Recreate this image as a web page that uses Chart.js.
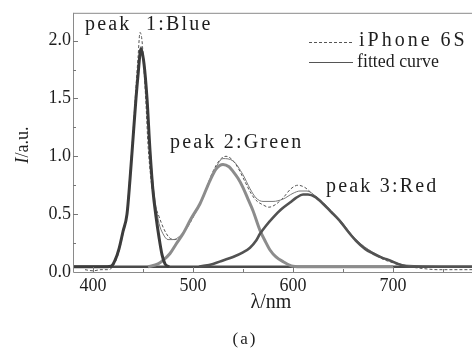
<!DOCTYPE html>
<html>
<head>
<meta charset="utf-8">
<script src="https://cdn.jsdelivr.net/npm/chart.js@4.4.1/dist/chart.umd.min.js"></script>
<style>
  html, body { margin: 0; padding: 0; background: #fff; overflow: hidden; }
  #wrap { width: 480px; height: 349px; }
</style>
</head>
<body>
<div id="wrap"><canvas id="spectrum" width="480" height="349"></canvas></div>
<script>
// values (wavelength in nm, intensity in a.u.)
const baseNm = [380, 780];
const baseI  = [0.045, 0.045];

const blueNm = [380, 410, 418, 422, 426, 430, 434, 437, 440, 443, 445, 448, 451, 454, 457, 460, 463, 466, 469, 472, 476];
const blueI  = [0.045, 0.045, 0.05, 0.1, 0.2, 0.35, 0.5, 0.8, 1.15, 1.5, 1.7, 1.93, 1.8, 1.5, 1.05, 0.7, 0.48, 0.3, 0.15, 0.07, 0.045];

const greenNm = [455, 465, 470, 477, 483, 490, 498, 507, 517, 523, 530, 536, 540, 545, 550, 555, 560, 567, 572, 577, 583, 590, 600, 610, 700];
const greenI  = [0.045, 0.07, 0.1, 0.16, 0.24, 0.33, 0.46, 0.59, 0.79, 0.89, 0.93, 0.91, 0.87, 0.81, 0.73, 0.63, 0.53, 0.36, 0.27, 0.19, 0.13, 0.09, 0.05, 0.045, 0.045];

const redNm = [506, 520, 530, 540, 550, 557, 563, 567, 573, 580, 588, 597, 603, 610, 615, 622, 630, 638, 647, 655, 663, 672, 680, 690, 697, 705, 713, 720, 780];
const redI  = [0.045, 0.07, 0.1, 0.13, 0.17, 0.21, 0.27, 0.33, 0.4, 0.47, 0.54, 0.6, 0.64, 0.67, 0.67, 0.65, 0.59, 0.52, 0.44, 0.35, 0.27, 0.2, 0.16, 0.12, 0.1, 0.07, 0.05, 0.045, 0.045];

const fitNm = [380, 418, 422, 426, 430, 434, 437, 440, 443, 445, 448, 451, 454, 457, 460, 463, 466, 470, 475, 480, 490, 500, 510, 520, 530, 540, 550, 557, 563, 570, 580, 590, 600, 607, 614, 622, 630, 647, 663, 680, 697, 713, 780];
const fitI  = [0.045, 0.05, 0.1, 0.2, 0.35, 0.5, 0.8, 1.15, 1.5, 1.72, 1.95, 1.82, 1.52, 1.08, 0.76, 0.56, 0.42, 0.33, 0.28, 0.28, 0.34, 0.48, 0.65, 0.85, 0.98, 0.96, 0.84, 0.72, 0.64, 0.61, 0.61, 0.63, 0.68, 0.7, 0.7, 0.66, 0.6, 0.45, 0.28, 0.17, 0.1, 0.06, 0.045];

const measNm = [392, 400, 408, 415, 420, 425, 430, 434, 437, 440, 443, 445, 447, 449, 451, 453, 455, 458, 461, 466, 471, 476, 482, 490, 500, 510, 520, 527, 533, 538, 545, 552, 558, 563, 570, 576, 582, 590, 598, 605, 612, 620, 630, 640, 650, 660, 670, 680, 690, 700, 710, 720, 730, 745, 760, 780];
const measI  = [0.02, 0.01, 0.02, 0.02, 0.05, 0.15, 0.33, 0.52, 0.85, 1.2, 1.6, 1.85, 2.07, 2.0, 1.75, 1.45, 1.1, 0.8, 0.62, 0.48, 0.37, 0.3, 0.28, 0.33, 0.47, 0.65, 0.87, 0.97, 1.0, 0.98, 0.9, 0.78, 0.68, 0.62, 0.58, 0.56, 0.58, 0.64, 0.72, 0.75, 0.73, 0.67, 0.6, 0.5, 0.4, 0.3, 0.22, 0.16, 0.11, 0.08, 0.05, 0.04, 0.03, 0.02, 0.02, 0.02];

const xMajor = [400, 500, 600, 700];
const yMajor = [0.0, 0.5, 1.0, 1.5, 2.0];

const legendLabels = ['iPhone 6S', 'fitted curve'];
const peakLabels = ['peak  1:Blue', 'peak 2:Green', 'peak 3:Red'];

function pts(xs, ys) {
  return xs.map((x, i) => ({ x: x, y: ys[i] }));
}

const serif = '"Liberation Serif", "DejaVu Serif", serif';

// frame, inward ticks and annotations
const decorations = {
  id: 'decorations',
  afterDraw(chart) {
    const ctx = chart.ctx;
    const a = chart.chartArea;
    const xs = chart.scales.x, ys = chart.scales.y;
    ctx.save();
    ctx.strokeStyle = '#8a8a8a';
    ctx.lineWidth = 1;
    ctx.beginPath();
    ctx.moveTo(a.left + 0.5, a.top + 0.5);
    ctx.lineTo(a.right + 0.5, a.top + 0.5);
    ctx.moveTo(a.left + 0.5, a.top);
    ctx.lineTo(a.left + 0.5, a.bottom + 0.5);
    ctx.lineTo(a.right, a.bottom + 0.5);
    ctx.stroke();

    ctx.strokeStyle = '#777';
    ctx.beginPath();
    for (let v = 400; v < 790; v += 50) {
      const px = Math.round(xs.getPixelForValue(v)) + 0.5;
      const len = v % 100 === 0 ? 5 : 3;
      ctx.moveTo(px, a.bottom);
      ctx.lineTo(px, a.bottom - len);
    }
    for (let k = 1; k <= 8; k++) {
      const v = k * 0.25;
      const py = Math.round(ys.getPixelForValue(v)) + 0.5;
      const len = k % 2 === 0 ? 5 : 3;
      ctx.moveTo(a.left, py);
      ctx.lineTo(a.left + len, py);
    }
    ctx.stroke();

    ctx.fillStyle = '#1e1e1e';
    ctx.textBaseline = 'middle';
    ctx.textAlign = 'left';
    ctx.font = '20px ' + serif;
    ctx.letterSpacing = '2.2px';
    ctx.fillText(peakLabels[0], 85, 25);
    ctx.fillText(peakLabels[1], 170, 143);
    ctx.fillText(peakLabels[2], 326, 187);

    // legend
    ctx.strokeStyle = '#555';
    ctx.lineWidth = 1;
    ctx.setLineDash([3, 2]);
    ctx.beginPath();
    ctx.moveTo(309, 42.5);
    ctx.lineTo(353, 42.5);
    ctx.stroke();
    ctx.setLineDash([]);
    ctx.beginPath();
    ctx.moveTo(309, 62.5);
    ctx.lineTo(353, 62.5);
    ctx.stroke();
    ctx.font = '20px ' + serif;
    ctx.letterSpacing = '3px';
    ctx.fillText(legendLabels[0], 359, 41);
    ctx.save();
    ctx.translate(357, 62);
    ctx.scale(0.94, 1);
    ctx.font = '19px ' + serif;
    ctx.letterSpacing = '0px';
    ctx.fillText(legendLabels[1], 0, 0);
    ctx.restore();

    // axis titles and caption
    ctx.letterSpacing = '0px';
    ctx.textAlign = 'center';
    ctx.font = '20px ' + serif;
    ctx.fillText('λ/nm', 271, 303);
    ctx.font = '17px ' + serif;
    ctx.letterSpacing = '2px';
    ctx.fillText('(a)', 245, 340);
    ctx.letterSpacing = '0px';

    ctx.save();
    ctx.translate(23, 145);
    ctx.rotate(-Math.PI / 2);
    ctx.textAlign = 'left';
    ctx.font = 'italic 18px ' + serif;
    const w1 = ctx.measureText('I').width;
    ctx.font = '18px ' + serif;
    const w2 = ctx.measureText('/a.u.').width;
    const start = -(w1 + w2) / 2;
    ctx.font = 'italic 18px ' + serif;
    ctx.fillText('I', start, 0);
    ctx.font = '18px ' + serif;
    ctx.fillText('/a.u.', start + w1, 0);
    ctx.restore();

    ctx.restore();
  }
};

new Chart(document.getElementById('spectrum'), {
  type: 'line',
  data: {
    datasets: [
      {
        label: 'peak 1',
        data: pts(blueNm, blueI),
        borderColor: '#3c3c3c',
        borderWidth: 3,
        order: 1
      },
      {
        label: 'peak 3',
        data: pts(redNm, redI),
        borderColor: '#525252',
        borderWidth: 2.6,
        order: 2
      },
      {
        label: 'peak 2',
        data: pts(greenNm, greenI),
        borderColor: '#8c8c8c',
        borderWidth: 3,
        order: 3
      },
      {
        label: 'baseline',
        data: pts(baseNm, baseI),
        borderColor: '#4a4a4a',
        borderWidth: 2.6,
        order: 4
      },
      {
        label: 'fitted curve',
        data: pts(fitNm, fitI),
        borderColor: '#777',
        borderWidth: 1,
        order: 5
      },
      {
        label: 'iPhone 6S',
        data: pts(measNm, measI),
        borderColor: '#555',
        borderWidth: 1,
        borderDash: [3, 2],
        order: 6
      }
    ]
  },
  options: {
    responsive: false,
    animation: false,
    devicePixelRatio: 1,
    elements: {
      point: { radius: 0 },
      line: { cubicInterpolationMode: 'monotone', fill: false }
    },
    layout: { padding: { top: 10, left: 0, right: 0, bottom: 0 } },
    plugins: {
      legend: { display: false },
      tooltip: { enabled: false }
    },
    scales: {
      x: {
        type: 'linear',
        min: 380,
        max: 787,
        grid: { display: false, drawTicks: false, tickLength: 0 },
        border: { display: false },
        afterFit: s => { s.height = 77; },
        ticks: {
          stepSize: 50,
          includeBounds: false,
          autoSkip: false,
          maxRotation: 0,
          padding: 3,
          color: '#1e1e1e',
          font: { family: serif, size: 18 },
          callback: v => (xMajor.includes(v) ? String(v) : '')
        }
      },
      y: {
        min: 0,
        max: 2.24,
        grid: { display: false, drawTicks: false, tickLength: 0 },
        border: { display: false },
        afterFit: s => { s.width = 73; },
        ticks: {
          stepSize: 0.25,
          includeBounds: false,
          autoSkip: false,
          padding: 2,
          color: '#1e1e1e',
          font: { family: serif, size: 18 },
          callback: v => {
            const m = yMajor.find(t => Math.abs(t - v) < 1e-6);
            return m === undefined ? '' : m.toFixed(1);
          }
        }
      }
    }
  },
  plugins: [decorations]
});
</script>
</body>
</html>
